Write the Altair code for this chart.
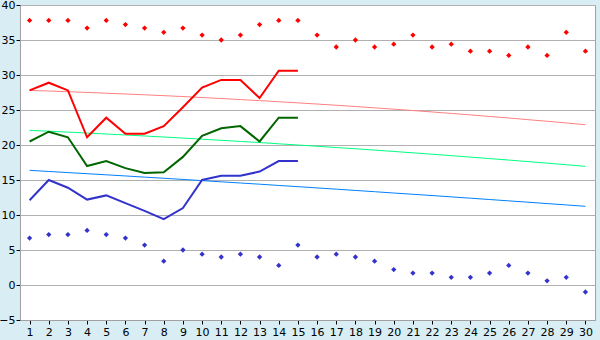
import altair as alt
import pandas as pd

days = list(range(1, 31))

max_obs = [37.8, 37.8, 37.8, 36.7, 37.8, 37.2, 36.7, 36.1, 36.7, 35.7,
           35.0, 35.7, 37.2, 37.8, 37.8, 35.7, 34.0, 35.0, 34.0, 34.4,
           35.7, 34.0, 34.4, 33.4, 33.4, 32.8, 34.0, 32.8, 36.1, 33.4]
min_obs = [6.7, 7.2, 7.2, 7.8, 7.2, 6.7, 5.7, 3.4, 5.0, 4.4,
           4.0, 4.4, 4.0, 2.8, 5.7, 4.0, 4.4, 4.0, 3.4, 2.2,
           1.7, 1.7, 1.1, 1.1, 1.7, 2.8, 1.7, 0.6, 1.1, -1.0]

line_days = list(range(1, 16))
max_line = [27.8, 28.9, 27.8, 21.1, 23.9, 21.6, 21.6, 22.7, 25.4, 28.2,
            29.3, 29.3, 26.7, 30.6, 30.6]
mean_line = [20.5, 21.9, 21.1, 17.0, 17.7, 16.7, 16.0, 16.1, 18.3, 21.3,
             22.4, 22.7, 20.5, 23.9, 23.9]
min_line = [12.1, 15.0, 13.9, 12.2, 12.8, 11.7, 10.6, 9.4, 11.0, 15.0,
            15.6, 15.6, 16.2, 17.7, 17.7]

max_norm = [27.80, 27.71, 27.61, 27.51, 27.40, 27.29, 27.17, 27.05, 26.92, 26.78,
            26.64, 26.49, 26.34, 26.18, 26.02, 25.85, 25.68, 25.50, 25.31, 25.12,
            24.92, 24.72, 24.51, 24.30, 24.08, 23.86, 23.62, 23.39, 23.15, 22.90]
mean_norm = [22.10, 21.97, 21.84, 21.71, 21.57, 21.43, 21.29, 21.14, 20.99, 20.83,
             20.67, 20.51, 20.35, 20.17, 20.00, 19.82, 19.64, 19.46, 19.27, 19.08,
             18.88, 18.68, 18.48, 18.27, 18.06, 17.85, 17.63, 17.41, 17.18, 16.95]
min_norm = [16.38, 16.22, 16.06, 15.90, 15.74, 15.58, 15.41, 15.25, 15.08, 14.91,
            14.74, 14.57, 14.40, 14.22, 14.05, 13.87, 13.69, 13.51, 13.33, 13.14,
            12.96, 12.78, 12.59, 12.40, 12.21, 12.02, 11.83, 11.63, 11.44, 11.24]

x_ticks = days
y_ticks = list(range(-5, 45, 5))

FONT = "DejaVu Sans"

x_enc = alt.X("day:Q",
              scale=alt.Scale(domain=[0.5, 30.5], nice=False, zero=False),
              axis=alt.Axis(values=x_ticks, grid=False, title=None, format="d",
                            labelFontSize=11, labelFont=FONT, labelColor="#000000",
                            tickColor="#000000", tickSize=4, labelPadding=2,
                            domainColor="#A0A0A0", labelFlush=False))
y_scale = alt.Scale(domain=[-5, 40], nice=False, zero=False)
y_axis = alt.Axis(values=y_ticks, grid=True, gridColor="#B0B0B0", title=None,
                  labelFontSize=11, labelFont=FONT, labelColor="#000000",
                  tickColor="#000000", tickSize=4, labelPadding=1,
                  domainColor="#A0A0A0", labelFlush=False)


def line_layer(xs, ys, color, width):
    df = pd.DataFrame({"day": xs, "v": ys})
    return alt.Chart(df).mark_line(color=color, strokeWidth=width).encode(
        x=x_enc, y=alt.Y("v:Q", scale=y_scale, axis=y_axis))


def point_layer(xs, ys, color):
    df = pd.DataFrame({"day": xs, "v": ys})
    return alt.Chart(df).mark_point(shape="diamond", filled=True, size=28,
                                    color=color, opacity=1).encode(
        x=x_enc, y=alt.Y("v:Q", scale=y_scale, axis=y_axis))


chart = alt.layer(
    line_layer(days, max_norm, "#FF8080", 1),
    line_layer(days, mean_norm, "#00FF80", 1),
    line_layer(days, min_norm, "#0080FF", 1),
    line_layer(line_days, max_line, "#FF0000", 2),
    line_layer(line_days, mean_line, "#006600", 2),
    line_layer(line_days, min_line, "#3333CC", 2),
    point_layer(days, max_obs, "#FF0000"),
    point_layer(days, min_obs, "#3333CC"),
).properties(
    width=575, height=315,
    autosize=alt.AutoSizeParams(type="none"),
    padding={"left": 20, "top": 5, "right": 5, "bottom": 20},
    background="#D8EEF4",
).configure_view(
    fill="#FFFFFF", stroke="#A0A0A0", strokeWidth=1
)

chart.save("out.html", embed_options={"renderer": "svg", "actions": False})
